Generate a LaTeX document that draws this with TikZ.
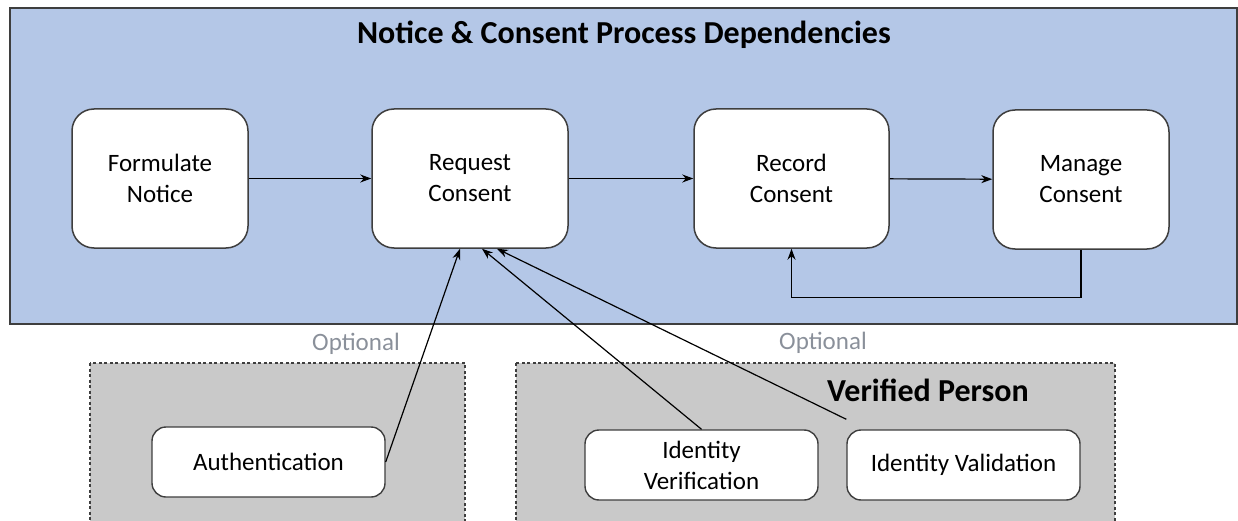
\documentclass[tikz,border=0pt]{standalone}
\usepackage{fontspec}
\setmainfont{Carlito}
\usetikzlibrary{arrows.meta}

\definecolor{panelblue}{RGB}{180,199,231}
\definecolor{boxgray}{RGB}{201,201,201}
\definecolor{edgegray}{RGB}{62,62,62}
\definecolor{optgray}{RGB}{138,144,154}

\tikzset{
  stage/.style={draw=edgegray, line width=1.5pt, fill=white, rounded corners=22pt,
    minimum width=#1, minimum height=139pt, align=center, inner sep=0pt,
    font=\fontsize{25}{31}\selectfont},
  idbox/.style={draw=edgegray, line width=1.4pt, fill=white, rounded corners=14pt,
    minimum width=233pt, minimum height=70pt, align=center, inner sep=0pt,
    font=\fontsize{25}{31}\selectfont},
  group/.style={draw=edgegray, line width=1.1pt, dash pattern=on 3pt off 2.5pt, fill=boxgray},
  optlabel/.style={text=optgray, font=\fontsize{25}{30}\selectfont},
  heading/.style={font=\bfseries\fontsize{32}{38}\selectfont},
  link/.style={line width=1.2pt, -{Stealth[length=11pt,width=8pt]}}
}

\begin{document}
\begin{tikzpicture}[x=1pt, y=-1pt]

\useasboundingbox (0,0) rectangle (1238,521);

\draw[edgegray, line width=1.6pt, fill=panelblue] (10,8) rectangle (1237,324);
\node[heading] (title) at (624,35) {Notice \& Consent Process Dependencies};

\node[stage=176pt] (form) at (160,178.5) {Formulate\\Notice};
\node[stage=196pt] (req) at (470,178.5) {Request\\Consent};
\node[stage=195pt] (rec) at (791.5,178.5) {Record\\Consent};
\node[stage=176pt] (man) at (1081,179.5) {Manage\\Consent};

\draw[link] (form) -- (req);
\draw[link] (req) -- (rec);
\draw[link] (rec) -- (man);
\draw[link] (man.south) -- ++(0,48) -| (rec.south);

\node[optlabel] (opt1) at (356,344) {Optional};
\node[optlabel] (opt2) at (823,343) {Optional};

\draw[group] (90,363) rectangle (465,530);
\draw[group] (516,363) rectangle (1115,530);

\node[heading] (person) at (928,390) {Verified Person};

\node[idbox] (auth) at (268.5,462) {Authentication};
\node[idbox] (idver) at (701.5,465) {Identity\\Verification};
\node[idbox] (idval) at (963.5,465) {Identity Validation};

\draw[link] (auth.east) -- ([xshift=-10pt]req.south);
\draw[link] (idver.north) -- ([xshift=12pt]req.south);
\draw[link] ([yshift=10pt]idval.north west) -- ([xshift=27pt]req.south);

\end{tikzpicture}
\end{document}
